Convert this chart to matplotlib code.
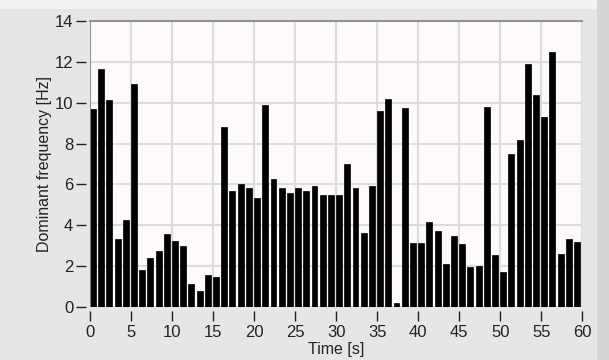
import matplotlib
matplotlib.use("Agg")
import matplotlib.pyplot as plt
from matplotlib.patches import Rectangle

plt.rcParams['font.family'] = ['Liberation Sans', 'DejaVu Sans']

time_s = list(range(60))
dominant_hz = [9.67, 11.64, 10.11, 3.35, 4.25, 10.91, 1.81, 2.41, 2.77, 3.57,
               3.22, 2.98, 1.16, 0.78, 1.60, 1.47, 8.79, 5.70, 6.01, 5.84,
               5.34, 9.86, 6.28, 5.84, 5.57, 5.84, 5.70, 5.91, 5.47, 5.47,
               5.47, 7.02, 5.84, 3.65, 5.91, 9.59, 10.16, 0.20, 9.72, 3.13,
               3.13, 4.15, 3.73, 2.10, 3.50, 3.08, 1.97, 2.03, 9.80, 2.54,
               1.74, 7.47, 8.19, 11.87, 10.39, 9.30, 12.45, 2.62, 3.35, 3.21]
x_ticks = [0, 5, 10, 15, 20, 25, 30, 35, 40, 45, 50, 55, 60]
y_ticks = [0, 2, 4, 6, 8, 10, 12, 14]

W, H = 609, 360
fig = plt.figure(figsize=(W / 100, H / 100), dpi=100, facecolor='#e6e6e6')
# decorative panel strips
fig.patches.append(Rectangle((0, 1 - 9 / H), 1, 9 / H, transform=fig.transFigure,
                             facecolor='#f3f3f3', edgecolor='none', zorder=0))
fig.patches.append(Rectangle((597 / W, 0), 12 / W, 1, transform=fig.transFigure,
                             facecolor='#d6d6d6', edgecolor='none', zorder=0))

ax = fig.add_axes([90 / W, 1 - 307.3 / H, (582.3 - 90) / W, (307.3 - 20.7) / H])
ax.set_facecolor('#fdf9fd')
ax.bar(time_s, dominant_hz, width=0.72, align='edge', color='black',
       edgecolor='black', linewidth=0.5, zorder=3)
ax.set_xlim(0, 60)
ax.set_ylim(0, 14)
ax.set_xticks(x_ticks)
ax.set_yticks(y_ticks)
ax.grid(True, color='#dcdcdc', linewidth=1.5, zorder=0)
ax.set_axisbelow(True)

# frame: dark gray top and left edges
ax.spines['right'].set_visible(False)
ax.spines['top'].set_color('#8a8a8a')
ax.spines['top'].set_linewidth(1.3)
ax.axvline(0, color='#8a8a8a', linewidth=1.3, zorder=4)
# tick axes offset from the plot area
for s in ['left', 'bottom']:
    ax.spines[s].set_position(('outward', 3))
    ax.spines[s].set_color('none')

ax.tick_params(axis='y', direction='out', length=7, width=1, color='#222222',
               pad=2, labelsize=12, labelcolor='#222222')
ax.tick_params(axis='x', direction='out', length=7, width=1, color='#222222',
               pad=3, labelsize=12, labelcolor='#222222')
ax.set_xlabel('Time [s]', fontsize=11.5, color='#222222', labelpad=1)
ax.set_ylabel('Dominant frequency [Hz]', fontsize=11.5, color='#222222', labelpad=2)

fig.savefig('out.png', dpi=100, facecolor=fig.get_facecolor())
